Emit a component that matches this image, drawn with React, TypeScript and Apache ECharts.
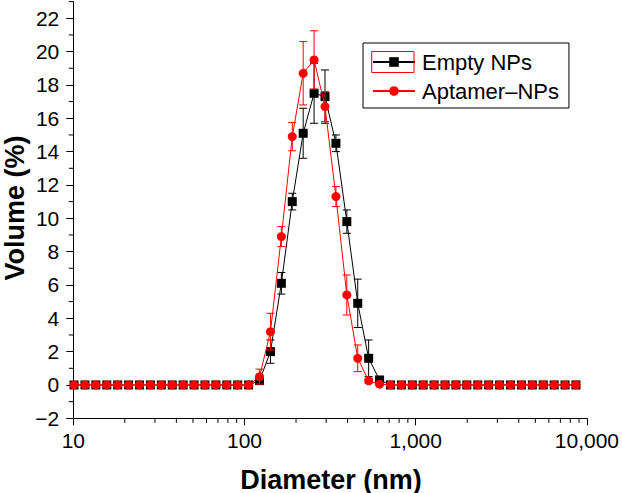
import React, { useEffect, useRef } from 'react';
import * as echarts from 'echarts';

// Size bins (nm)
const diameters = [
  10.1, 11.7, 13.54, 15.69, 18.17, 21.04, 24.36, 28.21, 32.67, 37.84, 43.82, 50.75,
  58.77, 68.06, 78.82, 91.28, 105.7, 122.4, 141.8, 164.2, 190.1, 220.2, 255.0, 295.3,
  342.0, 396.1, 458.7, 531.2, 615.1, 712.4, 825.0, 955.4, 1106, 1281, 1484, 1718,
  1990, 2305, 2669, 3091, 3580, 4145, 4801, 5560, 6439, 7456, 8635,
];

// Volume (%) — Empty NPs
const emptyNPs = [
  0, 0, 0, 0, 0, 0, 0, 0, 0, 0, 0, 0, 0, 0, 0, 0, 0,
  0.26, 2.0, 6.1, 11.0, 15.1, 17.5, 17.3, 14.5, 9.8, 4.9, 1.6, 0.3,
  0, 0, 0, 0, 0, 0, 0, 0, 0, 0, 0, 0, 0, 0, 0, 0, 0, 0, 0,
];
const emptyErr = [
  0, 0, 0, 0, 0, 0, 0, 0, 0, 0, 0, 0, 0, 0, 0, 0, 0,
  0.2, 0.7, 0.65, 0.5, 1.5, 1.8, 1.6, 0.5, 0.7, 1.45, 1.1, 0.2,
  0, 0, 0, 0, 0, 0, 0, 0, 0, 0, 0, 0, 0, 0, 0, 0, 0, 0, 0,
];

// Volume (%) — Aptamer–NPs
const aptamerNPs = [
  0, 0, 0, 0, 0, 0, 0, 0, 0, 0, 0, 0, 0, 0, 0, 0, 0,
  0.5, 3.2, 8.9, 14.9, 18.7, 19.5, 16.7, 11.3, 5.4, 1.6, 0.25, 0.05,
  0, 0, 0, 0, 0, 0, 0, 0, 0, 0, 0, 0, 0, 0, 0, 0, 0, 0, 0,
];
const aptamerErr = [
  0, 0, 0, 0, 0, 0, 0, 0, 0, 0, 0, 0, 0, 0, 0, 0, 0,
  0.45, 1.1, 0.6, 0.85, 1.9, 1.75, 0.9, 0.6, 1.2, 0.8, 0.15, 0,
  0, 0, 0, 0, 0, 0, 0, 0, 0, 0, 0, 0, 0, 0, 0, 0, 0, 0, 0,
];

const xMinorTicks = [
  20, 30, 40, 50, 60, 70, 80, 90,
  200, 300, 400, 500, 600, 700, 800, 900,
  2000, 3000, 4000, 5000, 6000, 7000, 8000, 9000,
];
const yMajorTicks = [-2, 0, 2, 4, 6, 8, 10, 12, 14, 16, 18, 20, 22];
const yMinorTicks = [-1, 1, 3, 5, 7, 9, 11, 13, 15, 17, 19, 21, 23];

const FONT = 'Liberation Sans, Arial, sans-serif';

function errorSeries(name: string, vals: number[], errs: number[], color: string, z: number) {
  const data = diameters
    .map((d, i) => [d, vals[i], errs[i]])
    .filter((p) => p[2] > 0);
  return {
    type: 'custom',
    name: name + ' err',
    z,
    silent: true,
    clip: false,
    encode: { x: 0, y: 1 },
    data,
    renderItem: (_p: any, api: any) => {
      const x = api.value(0);
      const y = api.value(1);
      const e = api.value(2);
      const hi = api.coord([x, y + e]);
      const lo = api.coord([x, y - e]);
      const hw = 4;
      const style = { stroke: color, lineWidth: 1 };
      return {
        type: 'group',
        children: [
          { type: 'line', shape: { x1: hi[0], y1: hi[1], x2: lo[0], y2: lo[1] }, style },
          { type: 'line', shape: { x1: hi[0] - hw, y1: hi[1], x2: hi[0] + hw, y2: hi[1] }, style },
          { type: 'line', shape: { x1: lo[0] - hw, y1: lo[1], x2: lo[0] + hw, y2: lo[1] }, style },
        ],
      };
    },
  };
}

export default function App() {
  const ref = useRef<HTMLDivElement>(null);
  useEffect(() => {
    const chart = echarts.init(ref.current!, null, { renderer: 'svg' });
    chart.setOption({
      animation: false,
      backgroundColor: '#fff',
      textStyle: { fontFamily: FONT },
      grid: { left: 73.3, right: 34.7, top: 1.6, bottom: 74.7, containLabel: false },
      legend: {
        show: true,
        orient: 'vertical',
        left: 363,
        top: 43,
        padding: [8, 10, 6, 9],
        itemGap: 7,
        itemWidth: 42,
        itemHeight: 12,
        borderColor: '#000',
        borderWidth: 1,
        selectedMode: false,
        data: ['Empty NPs', 'Aptamer–NPs'],
        textStyle: { fontFamily: FONT, fontSize: 22, color: '#000', lineHeight: 22, padding: [0, 0, 0, 2] },
      },
      xAxis: {
        type: 'log',
        logBase: 10,
        min: 10,
        max: 10000,
        axisLine: { show: true, onZero: false, lineStyle: { color: '#000', width: 1 } },
        axisTick: { show: true, inside: false, length: 7, lineStyle: { color: '#000' } },
        minorTick: { show: false },
        splitLine: { show: false },
        axisLabel: {
          color: '#000',
          fontSize: 21,
          fontFamily: FONT,
          margin: 12,
          formatter: (v: number) => Number(v).toLocaleString('en-US'),
        },
      },
      yAxis: {
        type: 'value',
        min: -2,
        max: 23,
        interval: 1,
        axisLine: { show: true, onZero: false, lineStyle: { color: '#000', width: 1 } },
        axisTick: {
          show: true,
          inside: false,
          length: 7,
          customValues: yMajorTicks,
          lineStyle: { color: '#000' },
        },
        minorTick: { show: false },
        splitLine: { show: false },
        minorSplitLine: { show: false },
        axisLabel: {
          color: '#000',
          fontSize: 21,
          fontFamily: FONT,
          margin: 14,
          customValues: yMajorTicks,
          formatter: (v: number) => (v < 0 ? '\u2212' + Math.abs(v) : String(v)),
        },
      },
      graphic: [
        {
          type: 'text',
          x: 14.5,
          y: 208,
          rotation: Math.PI / 2,
          style: {
            text: 'Volume (%)',
            font: 'bold 27px ' + FONT,
            fill: '#000',
            align: 'center',
            verticalAlign: 'middle',
          },
        },
        {
          type: 'text',
          x: 331,
          y: 479.5,
          style: {
            text: 'Diameter (nm)',
            font: 'bold 27px ' + FONT,
            fill: '#000',
            align: 'center',
            verticalAlign: 'middle',
          },
        },
        {
          type: 'rect',
          z: 100,
          shape: { x: 371.7, y: 51.5, width: 42.3, height: 21 },
          style: { fill: 'none', stroke: '#ff0000', lineWidth: 1 },
        },
      ],
      series: [
        {
          type: 'custom',
          name: 'x minor ticks',
          silent: true,
          clip: false,
          z: 1,
          encode: { x: 0, y: 1 },
          data: xMinorTicks.map((v) => [v, -2]),
          renderItem: (_p: any, api: any) => {
            const p = api.coord([api.value(0), api.value(1)]);
            return {
              type: 'line',
              shape: { x1: p[0], y1: p[1], x2: p[0], y2: p[1] + 4.5 },
              style: { stroke: '#000', lineWidth: 1 },
            };
          },
        },
        {
          type: 'custom',
          name: 'y minor ticks',
          silent: true,
          clip: false,
          z: 1,
          encode: { x: 0, y: 1 },
          data: yMinorTicks.map((v) => [10, v]),
          renderItem: (_p: any, api: any) => {
            const p = api.coord([api.value(0), api.value(1)]);
            return {
              type: 'line',
              shape: { x1: p[0], y1: p[1], x2: p[0] - 4.5, y2: p[1] },
              style: { stroke: '#000', lineWidth: 1 },
            };
          },
        },
        errorSeries('Empty NPs', emptyNPs, emptyErr, '#000', 2),
        {
          type: 'line',
          name: 'Empty NPs',
          z: 3,
          data: diameters.map((d, i) => [d, emptyNPs[i]]),
          symbol: 'rect',
          symbolSize: 9,
          showAllSymbol: true,
          lineStyle: { color: '#000', width: 1 },
          itemStyle: { color: '#000' },
        },
        errorSeries('Aptamer–NPs', aptamerNPs, aptamerErr, '#ff0000', 4),
        {
          type: 'line',
          name: 'Aptamer–NPs',
          z: 5,
          data: diameters.map((d, i) => [d, aptamerNPs[i]]),
          symbol: 'circle',
          symbolSize: 9,
          showAllSymbol: true,
          lineStyle: { color: '#ff0000', width: 1 },
          itemStyle: { color: '#ff0000' },
        },
      ],
    });
    return () => chart.dispose();
  }, []);
  return (
    <div
      ref={ref}
      style={{ position: 'fixed', left: 0, top: 0, width: 622, height: 493, background: '#fff' }}
    />
  );
}
